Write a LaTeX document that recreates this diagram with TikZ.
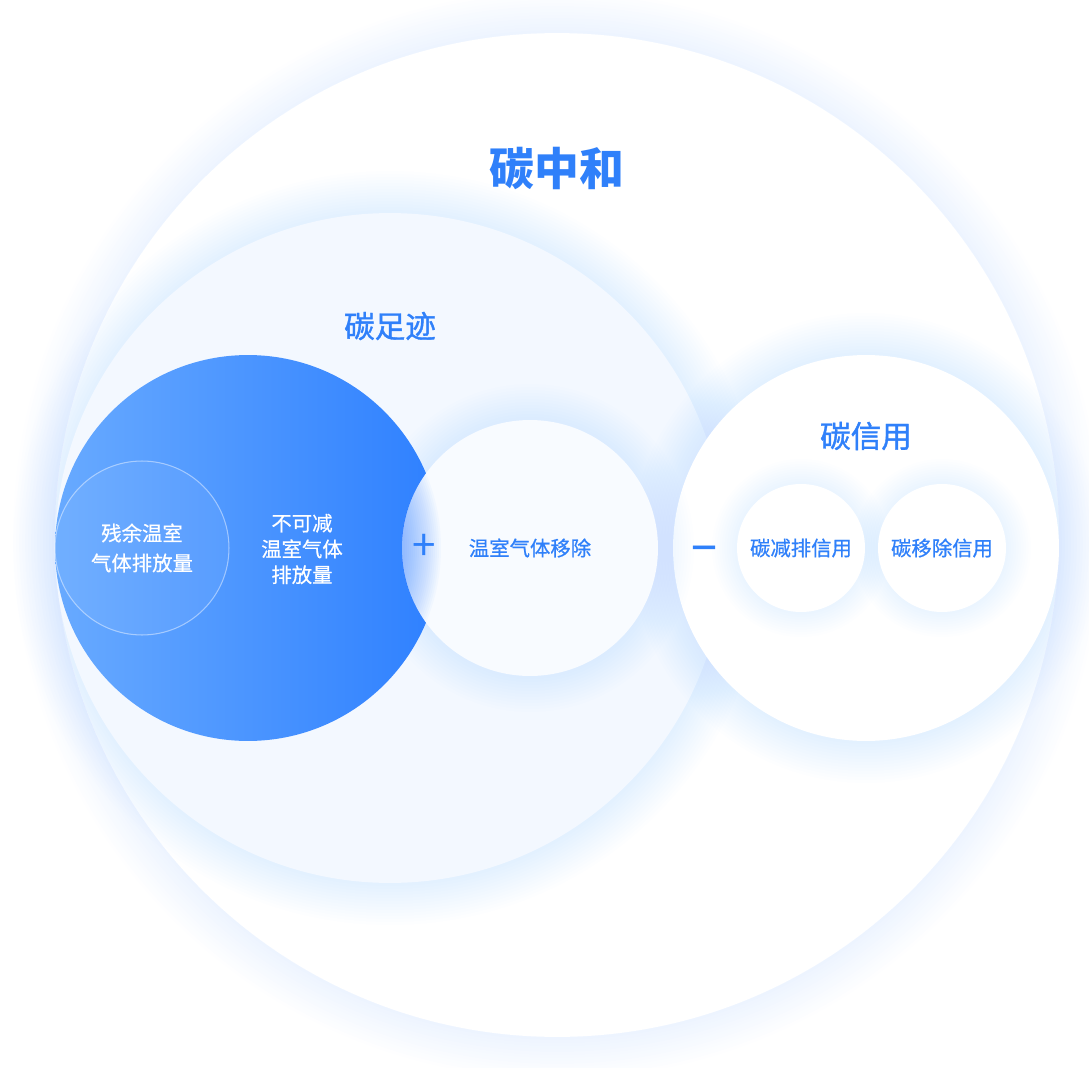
\documentclass[tikz,border=0pt]{standalone}
\usepackage{fontspec}
\setmainfont{Noto Sans CJK SC}
\newfontfamily\medfont[FakeBold=0.6]{Noto Sans CJK SC}
\newfontfamily\headfont[FakeBold=1.2]{Noto Sans CJK SC}
\definecolor{textblue}{HTML}{2F80FA}
\definecolor{glowblue}{HTML}{5E9DFF}
\definecolor{footfill}{HTML}{F3F8FF}
\definecolor{moveout}{HTML}{F8FBFF}
\definecolor{darkdisc}{HTML}{2E80FF}
\definecolor{lightdisc}{HTML}{68AAFF}
\tikzset{
  disc/.style={circle, inner sep=0pt, outer sep=0pt, draw=none},
  glow/.style={fill=glowblue, opacity=0.0065},
  softglow/.style={fill=glowblue, opacity=0.006},
  bluetxt/.style={text=textblue, font=\medfont\fontsize{11.6}{14}\selectfont},
  whitetxt/.style={text=white, align=center},
}
\begin{document}
\begin{tikzpicture}[x=0.02cm, y=-0.02cm]
  \useasboundingbox (0,0) rectangle (1089,1068);
  % outer circle
  \foreach \k in {1,...,14} \fill[glow] (557,535) circle [radius=502+3*\k];
  \node[disc, fill=white, minimum size=20.08cm] (zhonghe) at (557,535) {};
  % footprint circle
  \foreach \k in {1,...,14} \fill[glow] (390,548) circle [radius=335+3*\k];
  \node[disc, fill=footfill, minimum size=13.4cm] (zuji) at (390,548) {};
  % credit circle
  \foreach \k in {1,...,14} \fill[glow] (866,548) circle [radius=193+3*\k];
  \node[disc, fill=white, minimum size=7.72cm] (xinyong) at (866,548) {};
  % removal glow
  \foreach \k in {1,...,12} \fill[glow] (530,548) circle [radius=128+3*\k];
  % emissions
  \node[disc, left color=lightdisc, right color=darkdisc, minimum size=7.72cm] (paifang) at (248,548) {};
  \node[disc, fill=white, fill opacity=0.06, draw=white, draw opacity=0.45, line width=0.6pt, minimum size=3.48cm] (canyu) at (142,548) {};
  % removal
  \node[disc, fill=moveout, minimum size=5.12cm] (yichu) at (530,548) {};
  \begin{scope}
    \clip (yichu.center) circle [radius=128];
    \foreach \k in {0,...,23} \fill[darkdisc, opacity=0.032] (paifang.center) circle [radius=193-2*\k];
  \end{scope}
  % credit types
  \foreach \k in {1,...,10} \fill[softglow] (801,548) circle [radius=64+2.5*\k];
  \foreach \k in {1,...,10} \fill[softglow] (942,548) circle [radius=64+2.5*\k];
  \node[disc, fill=white, minimum size=2.56cm] (jianpaixy) at (801,548) {};
  \node[disc, fill=white, minimum size=2.56cm] (yichuxy) at (942,548) {};

  \node[text=textblue, font=\bfseries\fontsize{25.5}{30}\selectfont] (tzhonghe) at (557,168) {碳中和};
  \node[text=textblue, font=\headfont\fontsize{17.4}{20}\selectfont] (tzuji) at (390,326) {碳足迹};
  \node[text=textblue, font=\headfont\fontsize{17.4}{20}\selectfont] (txinyong) at (866,436) {碳信用};
  \node[whitetxt, font=\medfont\fontsize{11.6}{17}\selectfont] (tcanyu) at (canyu.center) {残余温室\\气体排放量};
  \node[whitetxt, font=\medfont\fontsize{11.6}{14.7}\selectfont] (tbukejian) at (302,549) {不可减\\温室气体\\排放量};
  \node[bluetxt] (tyichu) at (yichu.center) {温室气体移除};
  \node[bluetxt] (tjianpai) at (jianpaixy.center) {碳减排信用};
  \node[bluetxt] (tyichuxy) at (yichuxy.center) {碳移除信用};
  \node[text=textblue, font=\fontsize{24}{24}\selectfont] (plus) at (424,547) {+};
  \node[text=textblue, font=\medfont\fontsize{26}{26}\selectfont] (minus) at (704,555) {−};
\end{tikzpicture}
\end{document}
